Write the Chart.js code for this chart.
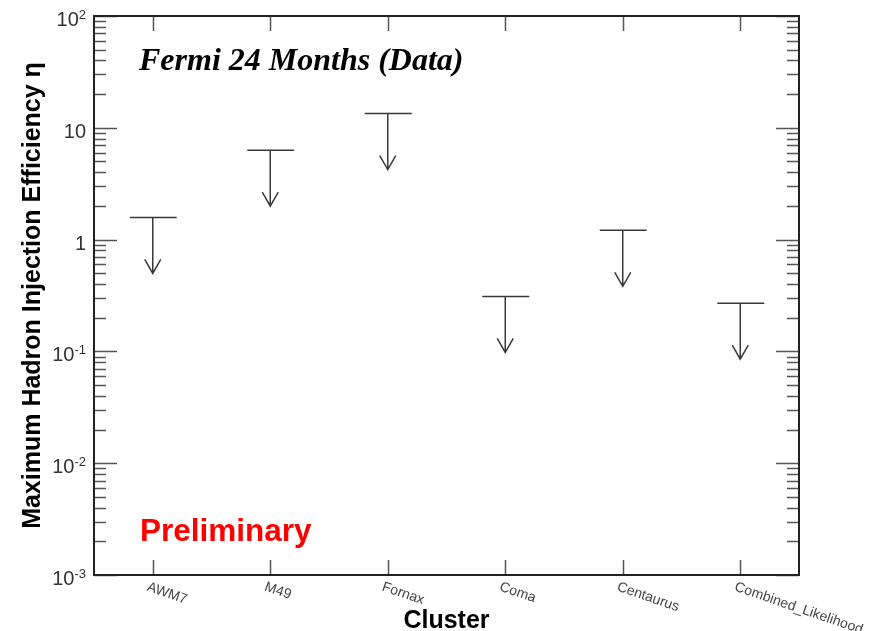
<!DOCTYPE html>
<html>
<head>
<meta charset="utf-8">
<script src="https://cdn.jsdelivr.net/npm/chart.js@4/dist/chart.umd.min.js"></script>
<style>
html,body{margin:0;padding:0;background:#ffffff;}
#wrap{width:879px;height:631px;}
</style>
</head>
<body>
<div id="wrap"><canvas id="c" width="879" height="631"></canvas></div>
<script>
// ---- data ----
const clusters = ['AWM7', 'M49', 'Fornax', 'Coma', 'Centaurus', 'Combined_Likelihood'];
const upperLimits = [1.58, 6.3, 13.4, 0.31, 1.21, 0.27];
const yMin = 0.001;
const yMax = 100;
const yDecadeExponents = [-3, -2, -1, 0, 1, 2];
const yTickBases = ['10', '10', '10', '1', '10', '10'];
const yTickSups = ['-3', '-2', '-1', '', '', '2'];
const chartTitle = 'Fermi 24 Months (Data)';
const watermark = 'Preliminary';
const xTitle = 'Cluster';
const yTitle = 'Maximum Hadron Injection Efficiency \u03B7';

const SANS = '"Liberation Sans", Arial, Helvetica, sans-serif';
const SERIF = '"Liberation Serif", "Times New Roman", serif';

const framePlugin = {
  id: 'frame',
  afterDraw(chart) {
    const ctx = chart.ctx;
    const ca = chart.chartArea;
    const xs = chart.scales.x;
    const ys = chart.scales.y;
    ctx.save();

    // upper-limit markers (cap + downward arrow)
    const meta = chart.getDatasetMeta(0);
    ctx.strokeStyle = '#3a3a3a';
    ctx.lineWidth = 1.5;
    meta.data.forEach(pt => {
      const x = pt.x, y = pt.y;
      ctx.beginPath();
      ctx.moveTo(x - 23, y); ctx.lineTo(x + 24, y);
      ctx.moveTo(x, y); ctx.lineTo(x, y + 56);
      ctx.moveTo(x - 8, y + 42); ctx.lineTo(x, y + 56); ctx.lineTo(x + 8, y + 42);
      ctx.stroke();
    });

    // y tick marks (left and right, inward)
    ctx.strokeStyle = '#555555';
    ctx.lineWidth = 1.5;
    for (let e = -3; e <= 2; e++) {
      for (let m = 1; m <= 9; m++) {
        const v = m * Math.pow(10, e);
        if (v > yMax * 1.0001) break;
        const py = Math.round(ys.getPixelForValue(v)) + 0.5;
        const len = m === 1 ? 23 : 12;
        ctx.beginPath();
        ctx.moveTo(ca.left, py); ctx.lineTo(ca.left + len, py);
        ctx.moveTo(ca.right, py); ctx.lineTo(ca.right - len, py);
        ctx.stroke();
      }
    }
    // x tick marks (bottom and top, inward)
    clusters.forEach((c, i) => {
      const px = Math.round(xs.getPixelForTick(i)) + 0.5;
      ctx.beginPath();
      ctx.moveTo(px, ca.bottom); ctx.lineTo(px, ca.bottom - 15);
      ctx.moveTo(px, ca.top); ctx.lineTo(px, ca.top + 15);
      ctx.stroke();
    });

    // frame
    ctx.strokeStyle = '#222222';
    ctx.lineWidth = 2;
    ctx.strokeRect(ca.left, ca.top, ca.right - ca.left, ca.bottom - ca.top);

    // y tick labels
    ctx.fillStyle = '#333333';
    ctx.textBaseline = 'alphabetic';
    yDecadeExponents.forEach((e, i) => {
      const py = ys.getPixelForValue(Math.pow(10, e));
      let right = ca.left - 8;
      if (yTickSups[i]) {
        ctx.font = '13px ' + SANS;
        ctx.textAlign = 'right';
        ctx.fillText(yTickSups[i], right, py + 3);
        right -= ctx.measureText(yTickSups[i]).width;
      }
      ctx.font = '20px ' + SANS;
      ctx.textAlign = 'right';
      ctx.fillText(yTickBases[i], right, py + 10);
    });

    // x tick labels (rotated clockwise)
    ctx.font = '14px ' + SANS;
    ctx.fillStyle = '#444444';
    ctx.textAlign = 'left';
    ctx.textBaseline = 'top';
    clusters.forEach((c, i) => {
      const px = xs.getPixelForTick(i);
      ctx.save();
      ctx.translate(px - 3, ca.bottom + 5);
      ctx.rotate(0.33);
      ctx.fillText(c, 0, 0);
      ctx.restore();
    });

    // chart annotation text
    ctx.textAlign = 'left';
    ctx.textBaseline = 'alphabetic';
    ctx.fillStyle = '#000000';
    ctx.font = 'italic bold 32px ' + SERIF;
    ctx.fillText(chartTitle, 139, 70);
    ctx.fillStyle = '#ff0000';
    ctx.font = 'bold 31.5px ' + SANS;
    ctx.fillText(watermark, 140, 541);

    ctx.restore();
  }
};

new Chart(document.getElementById('c'), {
  type: 'line',
  data: {
    labels: clusters,
    datasets: [{
      data: upperLimits,
      showLine: false,
      pointRadius: 0,
      pointHoverRadius: 0
    }]
  },
  options: {
    responsive: false,
    animation: false,
    events: [],
    layout: { padding: { top: 16, right: 80, left: 0, bottom: 0 } },
    plugins: { legend: { display: false }, tooltip: { enabled: false }, title: { display: false } },
    scales: {
      x: {
        type: 'category',
        offset: true,
        grid: { display: false },
        border: { display: false },
        ticks: { display: false },
        title: {
          display: true,
          text: xTitle,
          color: '#000000',
          font: { family: SANS, size: 25, weight: 'bold', lineHeight: 0.8 },
          padding: { top: 0, bottom: 0 }
        },
        afterFit(s) { s.height = 56; }
      },
      y: {
        type: 'logarithmic',
        min: yMin,
        max: yMax,
        grid: { display: false },
        border: { display: false },
        ticks: { display: false },
        title: {
          display: true,
          text: yTitle,
          color: '#000000',
          font: { family: SANS, size: 25, weight: 'bold', lineHeight: 1.2 },
          padding: { top: 18, bottom: 0 }
        },
        afterFit(s) { s.width = 94; }
      }
    }
  },
  plugins: [framePlugin]
});
</script>
</body>
</html>
